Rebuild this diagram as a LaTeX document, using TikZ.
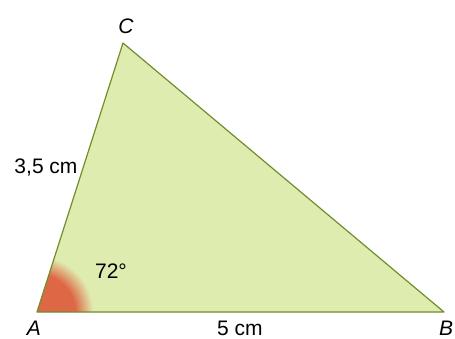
\documentclass[tikz,border=0pt]{standalone}
\usepackage{fontspec}
\setmainfont{Liberation Sans}
\definecolor{trifill}{RGB}{223,236,176}
\definecolor{triedge}{RGB}{112,142,42}
\definecolor{wedgered}{RGB}{222,104,70}
\pgfdeclareradialshading{wedgeglow}{\pgfpoint{0bp}{0bp}}{color(0bp)=(wedgered); color(17bp)=(wedgered); color(25bp)=(trifill); color(50bp)=(trifill)}
\tikzset{
  lbl/.style={anchor=base, inner sep=0pt, font=\fontsize{21}{25}\selectfont},
  vertex/.style={lbl, font=\fontsize{21}{25}\selectfont\itshape}
}
\begin{document}
\begin{tikzpicture}[x=1pt,y=-1pt, line join=round, line cap=round]
				\useasboundingbox[fill=white] (0,0) rectangle (455,338);
				\coordinate (A) at (37,312);
				\coordinate (B) at (444,312);
				\coordinate (C) at (123,43);
				\fill[trifill] (A)--(B)--(C)--cycle;
				\begin{scope}
				\clip (A)--(B)--(C)--cycle;
				\shade[shading=wedgeglow] (A) circle (56);
				\end{scope}
				\draw[triedge, line width=1.2pt] (A)--(B)--(C)--cycle;
				\node[vertex] (labA) at (34,335) {A};
				\node[vertex] (labB) at (446,335) {B};
				\node[vertex] (labC) at (126,33) {C};
				\node[lbl] (angA) at (111,278) {72°};
				\node[lbl] (sideAC) at (46,173) {3,5 cm};
				\node[lbl] (sideAB) at (240,335) {5 cm};
			\end{tikzpicture}
\end{document}
